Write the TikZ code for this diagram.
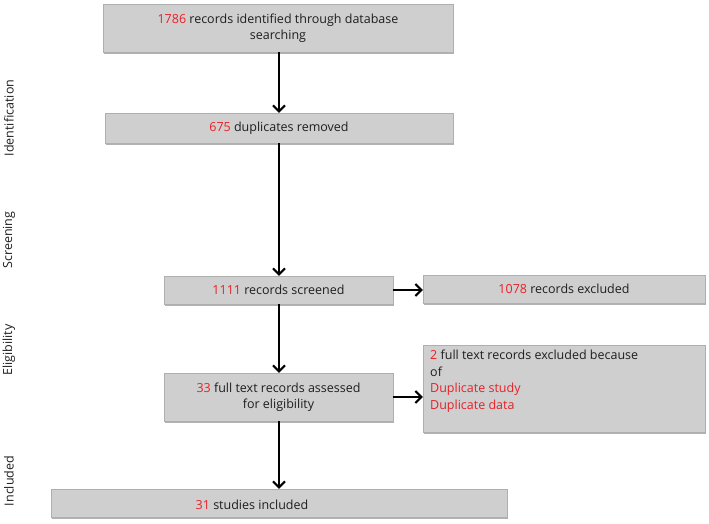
\documentclass[tikz,border=0pt]{standalone}
\usepackage{fontspec}
\setmainfont{Open Sans}
\usetikzlibrary{arrows.meta,shadows}
\definecolor{boxfill}{RGB}{207,207,207}
\definecolor{boxedge}{RGB}{175,175,175}
\definecolor{numred}{RGB}{232,32,40}
\definecolor{txt}{RGB}{30,30,30}
\newcommand{\rn}[1]{\textcolor{numred}{#1}}
\begin{document}
\begin{tikzpicture}[x=1pt,y=-1pt,
  every node/.style={font=\fontsize{12.5}{16.5}\selectfont, text=txt},
  flowbox/.style={draw=boxedge, line width=0.4pt, fill=boxfill, inner sep=0pt, align=center,
    drop shadow={shadow xshift=1.2pt, shadow yshift=-1.6pt, opacity=0.55, fill=black!55}},
  flowarrow/.style={draw=black, line width=2pt, -{Straight Barb[length=6pt,width=12pt,line width=2pt]}},
  phase/.style={rotate=90, inner sep=0pt, text=txt}]
\useasboundingbox (0,0) rectangle (709,523);
\fill[white] (0,0) rectangle (709,523);

\node[flowbox, minimum width=350pt, minimum height=48pt] (b1) at (278,28)
  {\rn{1786} records identified through database\\searching};
\node[flowbox, minimum width=348pt, minimum height=30pt] (b2) at (279,128)
  {\rn{675} duplicates removed};
\node[flowbox, minimum width=229pt, minimum height=28pt] (b3) at (278.5,290)
  {\rn{1111} records screened};
\node[flowbox, minimum width=282pt, minimum height=28pt] (b4) at (564,289)
  {\rn{1078} records excluded};
\node[flowbox, minimum width=229pt, minimum height=48pt] (b5) at (278.5,397)
  {\rn{33} full text records assessed\\for eligibility};
\node[flowbox, minimum width=282pt, minimum height=87pt] (b7) at (564,388.5) {};
\node[anchor=north west, align=left, inner sep=0pt] (t7) at (430,350)
  {\rn{2} full text records excluded because\\of\\\rn{Duplicate study}\\\rn{Duplicate data}};
\node[flowbox, minimum width=456pt, minimum height=28pt] (b6) at (279,503) {};
\node[inner sep=0pt] (t6) at (252,505) {\rn{31} studies included};

\node[phase] (p1) at (9,118) {Identification};
\node[phase] (p2) at (9,240) {Screening};
\node[phase] (p3) at (9,350) {Eligibility};
\node[phase] (p4) at (9,481) {Included};

\draw[flowarrow] (b1.south -| 279,0) -- (b2.north -| 279,0);
\draw[flowarrow] (b2.south -| 279,0) -- (b3.north -| 279,0);
\draw[flowarrow] (b3.south -| 279,0) -- (b5.north -| 279,0);
\draw[flowarrow] (b5.south -| 279,0) -- (b6.north -| 279,0);
\draw[flowarrow] (b3.east) -- (b3.east -| b4.west);
\draw[flowarrow] (b5.east) -- (b5.east -| b7.west);
\end{tikzpicture}
\end{document}
